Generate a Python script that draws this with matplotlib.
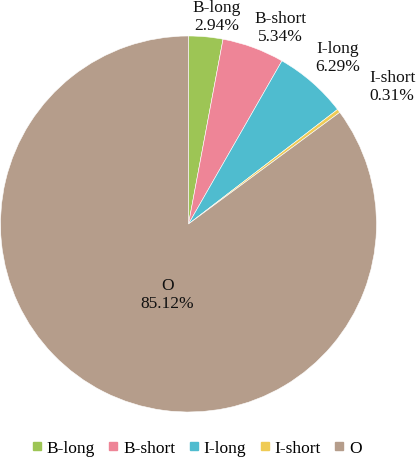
import matplotlib
matplotlib.use("Agg")
import matplotlib.pyplot as plt
from matplotlib.lines import Line2D

categories = ["B-long", "B-short", "I-long", "I-short", "O"]
values = [2.94, 5.34, 6.29, 0.31, 85.12]
colors = ["#9DC555", "#EE8597", "#4FBCCF", "#EFCB55", "#B59D8B"]

# label positions (layout, axes data units relative to pie center, radius=1)
label_pos = [(0.152, 1.106), (0.487, 1.048), (0.795, 0.888), (1.083, 0.734), (-0.114, -0.372)]

plt.rcParams['font.family'] = ['Liberation Serif', 'DejaVu Serif']

W, H = 416, 460
fig = plt.figure(figsize=(W / 100, H / 100), dpi=100)
cx, cy, R = 188.5, 225.0, 188.0
ax = fig.add_axes([(cx - R) / W, (H - cy - R) / H, 2 * R / W, 2 * R / H])

wedges, _ = ax.pie(values, colors=colors, startangle=90, counterclock=False,
                   radius=1.0, wedgeprops=dict(edgecolor="white", linewidth=0.4))
ax.set_xlim(-1, 1)
ax.set_ylim(-1, 1)
ax.set_aspect("equal")
ax.axis("off")

for cat, val, (x, y) in zip(categories, values, label_pos):
    ax.text(x, y, f"{cat}\n{val:.2f}%", ha="center", va="center",
            fontsize=12.5, linespacing=1.12, multialignment="center",
            clip_on=False, color="#111111")

handles = [Line2D([0], [0], marker="s", linestyle="none", markersize=5.5,
                  markerfacecolor=c, markeredgecolor=c) for c in colors]
fig.legend(handles, categories, loc="center", bbox_to_anchor=(197 / W, 1 - 449 / H),
           ncol=5, frameon=False, fontsize=12.5, handlelength=0.55,
           handletextpad=0.3, columnspacing=0.78, borderpad=0)

fig.savefig("out.png", dpi=100)
